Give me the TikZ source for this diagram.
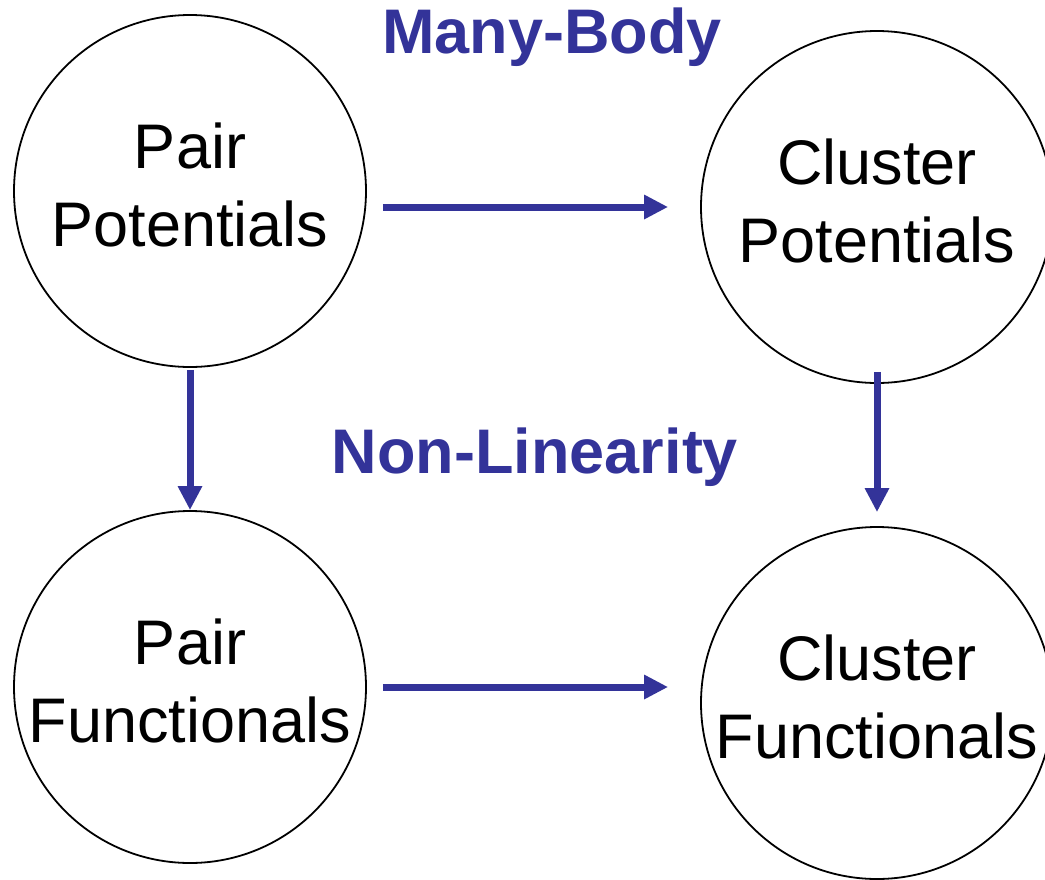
\documentclass[tikz,border=0pt]{standalone}
\usepackage{fontspec}
\setmainfont{Liberation Sans}
\usepackage{xcolor}
\usetikzlibrary{arrows.meta}
\definecolor{mbblue}{RGB}{51,51,153}
\tikzset{
  stage/.style={draw,circle,line width=0.9pt,minimum size=176pt,inner sep=0pt,align=center,
    text depth=6pt,font=\fontsize{31.5}{39}\selectfont},
  link/.style={draw=mbblue,line width=3.5pt,-{Triangle[length=12pt,width=11.5pt]}},
  axis label/.style={text=mbblue,font=\fontsize{31.5}{39}\selectfont\bfseries,anchor=base}
}
\begin{document}
\begin{tikzpicture}[x=0.5pt,y=-0.5pt]
\useasboundingbox (0,0) rectangle (1045,879);
\clip (0,0) rectangle (1045,879);
\node[stage] (pp) at (190,191) {Pair\\Potentials};
\node[stage] (cp) at (877,207) {Cluster\\Potentials};
\node[stage] (pf) at (190,687) {Pair\\Functionals};
\node[stage] (cf) at (877,703) {Cluster\\Functionals};
\node[axis label] (mb) at (552,53) {Many-Body};
\node[axis label] (nl) at (535,473) {Non-Linearity};
\draw[link,shorten <=8pt,shorten >=16pt] (pp.east |- cp.west) -- (cp.west);
\draw[link,shorten <=8pt,shorten >=16pt] (pf.east) -- (pf.east -| cf.west);
\draw[link,shorten <=1pt] (pp.south) -- (pf.north);
\draw[link,shorten <=-6pt,shorten >=7pt] (cp.south) -- (cf.north);
\end{tikzpicture}
\end{document}
